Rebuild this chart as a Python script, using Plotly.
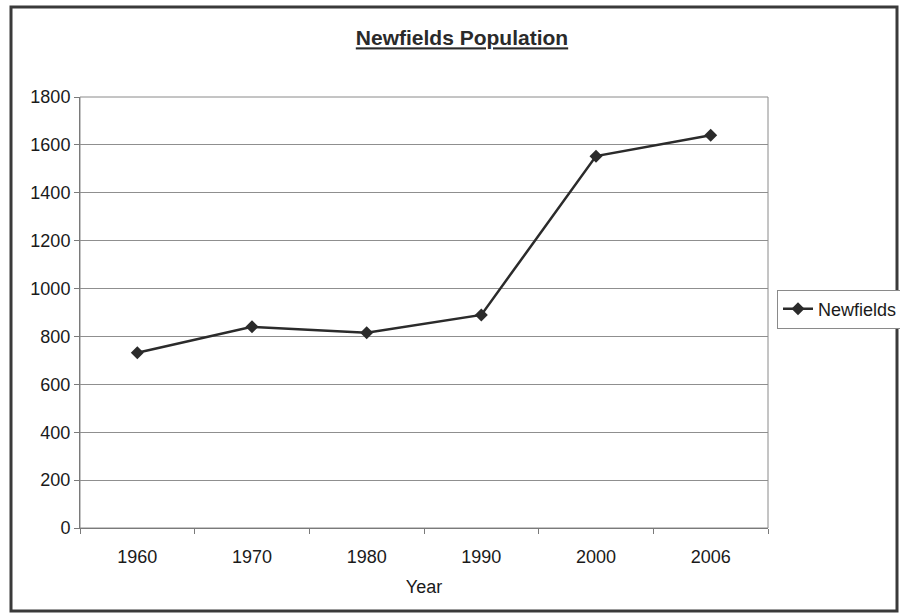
import plotly.graph_objects as go

# Newfields population by census year
years = ["1960", "1970", "1980", "1990", "2000", "2006"]
population = [732, 840, 815, 890, 1553, 1640]
y_ticks = [0, 200, 400, 600, 800, 1000, 1200, 1400, 1600, 1800]

W, H = 900, 614
L, R, T, B = 80, 768, 97, 528  # plot area in pixels
pw, ph = R - L, B - T


def px(x):
    return (x - L) / pw


def py(y):
    return (B - y) / ph


fig = go.Figure()
fig.add_trace(go.Scatter(
    x=years, y=population, mode="lines+markers", name="Newfields",
    line=dict(color="#2b2b2b", width=2.5),
    marker=dict(symbol="diamond", size=10, color="#2b2b2b"),
))

fig.update_layout(
    width=W, height=H,
    margin=dict(l=L, r=W - R, t=T, b=H - B, autoexpand=False),
    paper_bgcolor="white", plot_bgcolor="white",
    font=dict(family="Liberation Sans, Arial, sans-serif", size=18, color="#1a1a1a"),
    title=dict(
        text="<b><u>Newfields Population</u></b>",
        x=462 / W, xanchor="center", y=1 - 38 / H, yanchor="middle",
        font=dict(size=21, color="#2a2a2a"),
    ),
    showlegend=True,
    legend=dict(
        x=px(777), xanchor="left", y=py(309), yanchor="middle",
        bordercolor="#8a8a8a", borderwidth=1, bgcolor="white",
        font=dict(size=18), itemwidth=30,
    ),
    xaxis=dict(
        type="category", range=[-0.5, len(years) - 0.5], showgrid=False,
        showline=True, linecolor="#7a7a7a", linewidth=1,
        ticks="outside", tickson="boundaries", ticklen=5, tickcolor="#7a7a7a",
        ticklabelstandoff=12,
        title=dict(text="Year", standoff=14, font=dict(size=18)),
    ),
    yaxis=dict(
        range=[0, 1800], tickvals=y_ticks, ticktext=[str(v) for v in y_ticks],
        showgrid=True, gridcolor="#8f8f8f", gridwidth=1,
        showline=True, linecolor="#7a7a7a", linewidth=1,
        ticks="outside", ticklen=5, tickcolor="#7a7a7a",
        zeroline=False,
    ),
    shapes=[
        # plot area frame
        dict(type="rect", xref="paper", yref="paper", x0=0, x1=1, y0=0, y1=1,
             line=dict(color="#8a8a8a", width=1), layer="below"),
        # outer chart frame
        dict(type="rect", xref="paper", yref="paper",
             x0=px(11), x1=px(897), y0=py(611), y1=py(7),
             line=dict(color="#3a3a3a", width=3)),
    ],
)

fig.write_html("out.html")
